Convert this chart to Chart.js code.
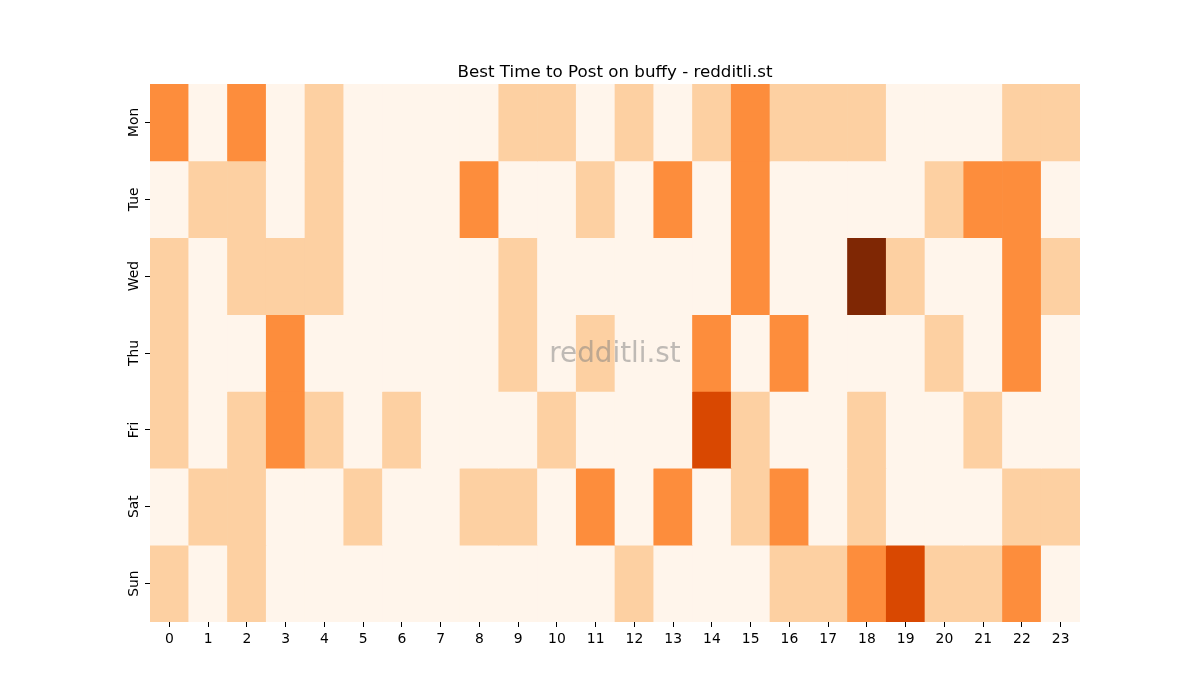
<!DOCTYPE html>
<html>
<head>
<meta charset="utf-8">
<script src="https://cdn.jsdelivr.net/npm/chart.js@4/dist/chart.umd.min.js"></script>
<style>
  html, body { margin: 0; padding: 0; background: #fff; }
  #wrap { width: 1200px; height: 700px; }
</style>
</head>
<body>
<div id="wrap"><canvas id="heat"></canvas></div>
<script>
// hours on x, days on y
const hours = ["0","1","2","3","4","5","6","7","8","9","10","11","12","13","14","15","16","17","18","19","20","21","22","23"];
const days = ["Mon", "Tue", "Wed", "Thu", "Fri", "Sat", "Sun"];

// post counts per hour, one array per day
const mon = [2,0,2,0,1,0,0,0,0,1,1,0,1,0,1,2,1,1,1,0,0,0,1,1];
const tue = [0,1,1,0,1,0,0,0,2,0,0,1,0,2,0,2,0,0,0,0,1,2,2,0];
const wed = [1,0,1,1,1,0,0,0,0,1,0,0,0,0,0,2,0,0,4,1,0,0,2,1];
const thu = [1,0,0,2,0,0,0,0,0,1,0,1,0,0,2,0,2,0,0,0,1,0,2,0];
const fri = [1,0,1,2,1,0,1,0,0,0,1,0,0,0,3,1,0,0,1,0,0,1,0,0];
const sat = [0,1,1,0,0,1,0,0,1,1,0,2,0,2,0,1,2,0,1,0,0,0,1,1];
const sun = [1,0,1,0,0,0,0,0,0,0,0,0,1,0,0,0,1,1,2,3,1,1,2,0];

const rows = [mon, tue, wed, thu, fri, sat, sun];
const vmax = 4;

// matplotlib "Oranges"
const oranges = ["#fff5eb","#fee6ce","#fdd0a2","#fdae6b","#fd8d3c","#f16913","#d94801","#a63603","#7f2704"];
function hexToRgb(h) {
  return [parseInt(h.slice(1,3),16), parseInt(h.slice(3,5),16), parseInt(h.slice(5,7),16)];
}
function colorFor(v) {
  const t = Math.max(0, Math.min(1, v / vmax)) * (oranges.length - 1);
  const i = Math.min(Math.floor(t), oranges.length - 2);
  const f = t - i;
  const a = hexToRgb(oranges[i]), b = hexToRgb(oranges[i + 1]);
  const c = a.map((x, k) => Math.round(x + (b[k] - x) * f));
  return `rgb(${c[0]},${c[1]},${c[2]})`;
}

const datasets = rows.map((r, i) => ({
  label: days[i],
  data: r.map(() => 1),
  counts: r,
  backgroundColor: r.map(colorFor),
  borderWidth: 0,
  barPercentage: 1,
  categoryPercentage: 1,
  stack: "s"
}));

const overlay = {
  id: "overlay",
  afterDraw(chart) {
    const { ctx, chartArea } = chart;
    const cx = (chartArea.left + chartArea.right) / 2;
    ctx.save();
    ctx.textAlign = "center";
    ctx.textBaseline = "alphabetic";
    ctx.fillStyle = "#000";
    ctx.font = "16.7px 'DejaVu Sans'";
    ctx.fillText("Best Time to Post on buffy - redditli.st", cx, chartArea.top - 7);
    ctx.textBaseline = "middle";
    ctx.fillStyle = "rgba(128,128,128,0.5)";
    ctx.font = "27.8px 'DejaVu Sans'";
    ctx.fillText("redditli.st", cx, (chartArea.top + chartArea.bottom) / 2 + 2);
    ctx.restore();
  }
};

Chart.defaults.font.family = "'DejaVu Sans'";
Chart.defaults.font.size = 13.9;
Chart.defaults.color = "#000";

new Chart(document.getElementById("heat"), {
  type: "bar",
  data: { labels: hours, datasets },
  options: {
    responsive: true,
    maintainAspectRatio: false,
    animation: false,
    layout: { padding: { top: 84, right: 120, left: 0, bottom: 0 } },
    plugins: { legend: { display: false }, tooltip: { enabled: false } },
    scales: {
      x: {
        stacked: true,
        border: { display: false },
        grid: { display: true, drawOnChartArea: false, offset: false, tickLength: 5, color: "#000", tickWidth: 1 },
        ticks: { maxRotation: 0, minRotation: 0, padding: 4, autoSkip: false },
        afterFit(s) { s.height = 78; }
      },
      y: {
        stacked: true,
        reverse: true,
        min: 0,
        max: 7,
        border: { display: false },
        grid: { display: true, drawOnChartArea: false, tickLength: 5, color: "#000", tickWidth: 1 },
        afterBuildTicks(s) { s.ticks = days.map((d, i) => ({ value: i + 0.5 })); },
        ticks: {
          minRotation: 90,
          maxRotation: 90,
          padding: -5,
          crossAlign: "center",
          callback(v) { return days[Math.round(v - 0.5)]; }
        },
        afterFit(s) { s.width = 150; }
      }
    }
  },
  plugins: [overlay]
});
</script>
</body>
</html>
